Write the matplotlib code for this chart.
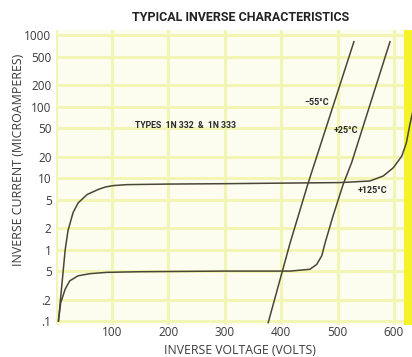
import numpy as np
import matplotlib

matplotlib.use("Agg")
import matplotlib.pyplot as plt

# ---- data ----------------------------------------------------------------- #
# inverse voltage (V) vs inverse current (uA), one pair of lists per curve
V_125 = [5, 17, 22, 31, 40, 56, 75, 88, 102, 127, 200, 300, 400, 504, 557, 581, 599, 614, 622, 628, 634]
I_125 = [0.1, 1.0, 1.85, 3.3, 4.5, 5.9, 6.9, 7.5, 7.85, 8.1, 8.25, 8.35, 8.5, 8.65, 9.1, 10.7, 14, 20.4, 31, 55, 90]

V_25 = [5, 9, 17, 25, 40, 61, 91, 150, 300, 416, 451, 463, 472, 478, 492, 510, 525, 593]
I_25 = [0.1, 0.18, 0.28, 0.365, 0.43, 0.46, 0.48, 0.49, 0.5, 0.5, 0.53, 0.62, 0.82, 1.25, 2.96, 8.2, 16.5, 810]

V_M55 = [377, 416, 448, 529]
I_M55 = [0.095, 1.25, 8.6, 810]

Y_TICKS = [0.1, 0.2, 0.5, 1, 2, 5, 10, 20, 50, 100, 200, 500, 1000]
Y_LABELS = [".1", ".2", "5", "1", "2", "5", "10", "20", "50", "100", "200", "500", "1000"]
X_TICKS = [100, 200, 300, 400, 500, 600]
X_LABELS = ["100", "200", "300", "400", "500", "600"]

# ---- style ---------------------------------------------------------------- #
PAPER = "#fcfdef"
GRID = "#f3f5b4"
EDGE = "#f5f22a"
INK = "#4a4636"
TEXT = "#3a3a3a"
NARROW = ["Roboto", "DejaVu Sans"]
plt.rcParams["font.family"] = ["Open Sans", "DejaVu Sans"]

fig = plt.figure(figsize=(4.12, 3.57), dpi=100)
ax = fig.add_axes([0.135, 0.0896, 0.865, 0.826])
ax.set_facecolor(PAPER)
ax.set_yscale("log")
ax.set_xlim(0, 632)
ax.set_ylim(0.088, 1175)

for y in Y_TICKS:
    ax.axhline(y, color=GRID, lw=2.2, zorder=0)
for x in [0] + X_TICKS:
    ax.axvline(x, color=GRID, lw=2.2, zorder=0)
ax.axvspan(618, 632, color=EDGE, lw=0, zorder=0)

ax.plot(V_125, I_125, color=INK, lw=1.1, zorder=3)
ax.plot(V_25, I_25, color=INK, lw=1.1, zorder=3)
ax.plot(V_M55, I_M55, color=INK, lw=1.1, zorder=3)

ax.set_yticks(Y_TICKS)
ax.set_yticklabels(Y_LABELS)
ax.minorticks_off()
ax.set_xticks(X_TICKS)
ax.set_xticklabels(X_LABELS)
ax.tick_params(length=0, labelsize=8.5, labelcolor=TEXT, pad=3)
ax.tick_params(axis="x", pad=0.5)
for side in ax.spines.values():
    side.set_visible(False)

ax.text(231, 54, "TYPES  1N 332  &  1N 333", fontsize=6.3, fontweight="bold",
        family=NARROW, color="#2a2a2a", ha="center", va="center")
ax.text(484, 114, "−55°C", fontsize=6.5, fontweight="bold", family=NARROW,
        color="#2a2a2a", ha="right", va="center")
ax.text(493, 46, "+25°C", fontsize=6.5, fontweight="bold", family=NARROW,
        color="#2a2a2a", ha="left", va="center")
ax.text(535, 6.7, "+125°C", fontsize=6.5, fontweight="bold", family=NARROW,
        color="#2a2a2a", ha="left", va="center")

fig.text(0.583, 0.95, "TYPICAL INVERSE CHARACTERISTICS", fontsize=9,
         fontweight="bold", family=NARROW, color="#222222", ha="center", va="center")
fig.text(0.583, 0.018, "INVERSE VOLTAGE (VOLTS)", fontsize=8.8, color=TEXT,
         ha="center", va="center")
fig.text(0.045, 0.552, "INVERSE CURRENT (MICROAMPERES)", fontsize=8.9, color=TEXT,
         ha="center", va="center", rotation=90)

fig.savefig("out.png", dpi=100)
